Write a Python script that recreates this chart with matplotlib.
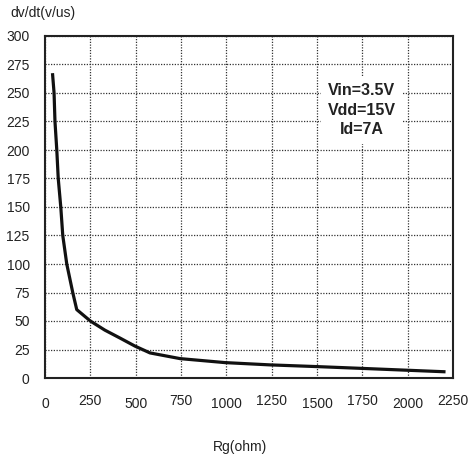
import matplotlib
matplotlib.use("Agg")
import matplotlib.pyplot as plt
import matplotlib.transforms as mtransforms

plt.rcParams['font.family'] = ['Liberation Sans', 'DejaVu Sans']

# values
rg = [42, 50, 55, 65, 73, 87, 98, 120, 153, 175, 250, 330, 414, 496, 579, 745, 993, 1241, 1500, 1737, 2200]
dvdt = [266, 250, 225, 200, 175, 150, 125, 100, 75, 60, 50, 42, 35, 28, 22, 17, 13.5, 11.5, 10, 8.5, 5.5]

xticks = [0, 250, 500, 750, 1000, 1250, 1500, 1750, 2000, 2250]
yticks = [0, 25, 50, 75, 100, 125, 150, 175, 200, 225, 250, 275, 300]

fig = plt.figure(figsize=(4.73, 4.61), dpi=100)
ax = fig.add_axes([45 / 473, 1 - 378 / 461, 408 / 473, 342 / 461])

ax.plot(rg, dvdt, color="#111111", lw=2.3, zorder=3)

ax.set_xlim(0, 2250)
ax.set_ylim(0, 300)
ax.set_xticks(xticks)
ax.set_yticks(yticks)
ax.set_xticklabels([str(t) for t in xticks])
ax.set_yticklabels([str(t) for t in yticks])
ax.tick_params(axis="both", length=0, labelsize=10, colors="#222222")
ax.tick_params(axis="x", pad=14)
ax.tick_params(axis="y", pad=11)

# staggered x tick labels like the original
for i, lab in enumerate(ax.get_xticklabels()):
    if i % 2 == 1:
        off = mtransforms.ScaledTranslation(0, 3 / 100, fig.dpi_scale_trans)
        lab.set_transform(lab.get_transform() + off)

ax.grid(True, color="#333333", linestyle=(0, (1, 1.2)), lw=0.9)
ax.set_axisbelow(True)
for s in ax.spines.values():
    s.set_linewidth(1.5)
    s.set_color("#222222")

ax.text(1746, 235, "Vin=3.5V\nVdd=15V\nId=7A", ha="center", va="center",
        fontsize=11.5, fontweight="bold", linespacing=1.4, color="#222222",
        bbox=dict(facecolor="white", edgecolor="none", pad=5), zorder=4)

fig.text(10 / 473, 1 - 13 / 461, "dv/dt(v/us)", fontsize=10, va="center", ha="left", color="#222222")
fig.text(240 / 473, 1 - 447 / 461, "Rg(ohm)", fontsize=10, va="center", ha="center", color="#222222")

fig.savefig("out.png", dpi=100)
